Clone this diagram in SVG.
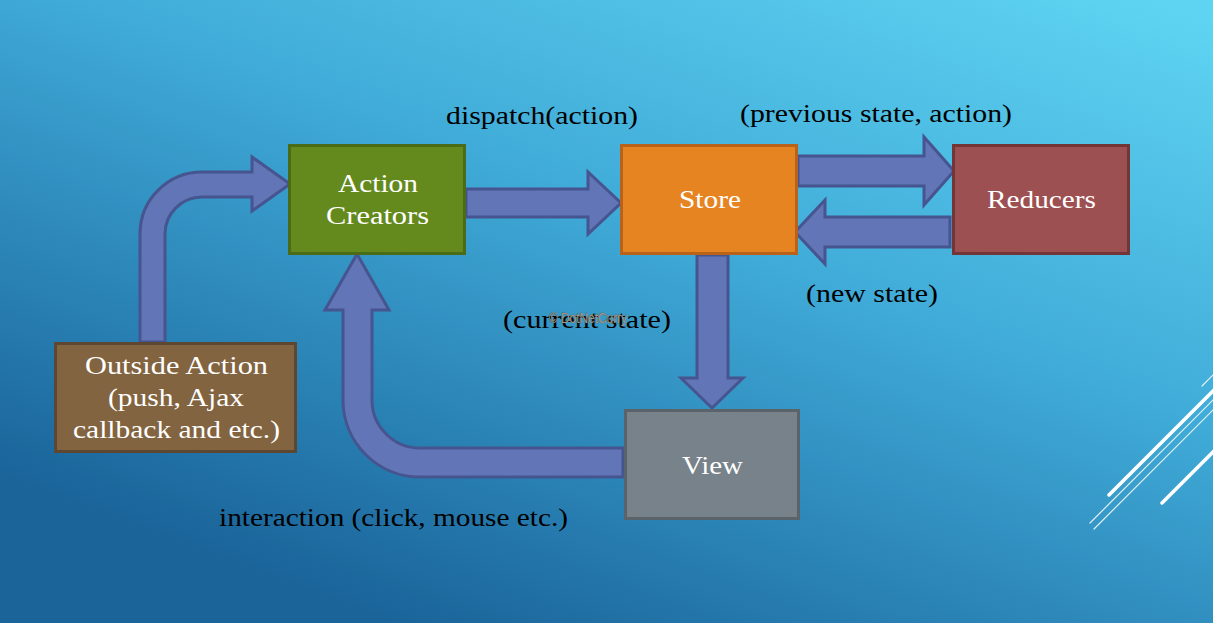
<svg xmlns="http://www.w3.org/2000/svg" width="1213" height="623" viewBox="0 0 1213 623">
<defs>
<linearGradient id="bg" gradientUnits="userSpaceOnUse" x1="900" y1="-100" x2="600" y2="700">
<stop offset="0" stop-color="#5fd4f2"/>
<stop offset="0.45" stop-color="#40abd8"/>
<stop offset="1" stop-color="#1a649a"/>
</linearGradient>
</defs>
<style>
.arrow{fill:#6175b7;stroke:#46558f;stroke-width:3;stroke-linejoin:miter}
.box{stroke-width:3}
.nt{font-family:"Liberation Serif","DejaVu Serif",serif;font-size:26px;fill:#ffffff;text-anchor:middle}
.lbl{font-family:"Liberation Serif","DejaVu Serif",serif;font-size:26px;fill:#000000}
.deco{stroke:#ffffff;stroke-linecap:round;fill:none}
.wm{font-family:"Liberation Sans","DejaVu Sans",sans-serif;font-size:14px;fill:#a39580;stroke:#4a4238;stroke-width:0.4;paint-order:stroke}
</style>
<rect x="0" y="0" width="1213" height="623" fill="url(#bg)"/>
<g id="decoration">
<line class="deco" x1="1109" y1="495" x2="1222" y2="382" stroke-width="3.5"/>
<line class="deco" x1="1162" y1="503" x2="1222" y2="443" stroke-width="3.5"/>
<line class="deco" x1="1090" y1="523" x2="1222" y2="391" stroke-width="1.2" opacity="0.85"/>
<line class="deco" x1="1094" y1="529" x2="1222" y2="401" stroke-width="1.2" opacity="0.85"/>
<line class="deco" x1="1202" y1="386" x2="1222" y2="366" stroke-width="1.2" opacity="0.85"/>
</g>
<g id="connectors">
<path class="arrow" d="M140,342 V234 A62,62 0 0 1 202,172 H252 V157 L290,184 L252,211 V197 H202 A37,37 0 0 0 165,234 V342 Z"/>
<path class="arrow" d="M466,189 H588 V172 L621,203 L588,234 V217 H466 Z"/>
<path class="arrow" d="M798,156 H924 V137 L954,171 L924,205 V186 H798 Z"/>
<path class="arrow" d="M950,217 H825 V200 L795,232 L825,264 V247 H950 Z"/>
<path class="arrow" d="M697,255 V378 H681 L712,408 L743,378 H728 V255 Z"/>
<path class="arrow" d="M372,310 H389 L357,254 L325,310 H343 V400 A77,77 0 0 0 420,477 H623 V448 H420 A48,48 0 0 1 372,400 Z"/>
</g>
<g id="action-creators">
<rect class="box" x="289.5" y="145.5" width="175" height="108" fill="#648a1e" stroke="#4b6b17"/>
<text class="nt" x="378" y="192" textLength="80" lengthAdjust="spacingAndGlyphs">Action</text>
<text class="nt" x="377.5" y="224" textLength="103" lengthAdjust="spacingAndGlyphs">Creators</text>
</g>
<g id="store">
<rect class="box" x="621.5" y="145.5" width="175" height="108" fill="#e68422" stroke="#b8621a"/>
<text class="nt" x="710" y="208" textLength="62" lengthAdjust="spacingAndGlyphs">Store</text>
</g>
<g id="reducers">
<rect class="box" x="953.5" y="145.5" width="175" height="108" fill="#9d5051" stroke="#733637"/>
<text class="nt" x="1041.5" y="208" textLength="109" lengthAdjust="spacingAndGlyphs">Reducers</text>
</g>
<g id="outside-action">
<rect class="box" x="55.5" y="343.5" width="240" height="108" fill="#836440" stroke="#5e4730"/>
<text class="nt" x="176.5" y="374" textLength="183" lengthAdjust="spacingAndGlyphs">Outside Action</text>
<text class="nt" x="176" y="406" textLength="136" lengthAdjust="spacingAndGlyphs">(push, Ajax</text>
<text class="nt" x="176.5" y="438" textLength="207" lengthAdjust="spacingAndGlyphs">callback and etc.)</text>
</g>
<g id="view">
<rect class="box" x="625.5" y="410.5" width="173" height="108" fill="#77828a" stroke="#5a6369"/>
<text class="nt" x="712.5" y="474" textLength="61" lengthAdjust="spacingAndGlyphs">View</text>
</g>
<g id="labels">
<text class="lbl" x="446" y="124" textLength="192" lengthAdjust="spacingAndGlyphs">dispatch(action)</text>
<text class="lbl" x="740" y="122" textLength="272" lengthAdjust="spacingAndGlyphs">(previous state, action)</text>
<text class="lbl" x="806" y="302" textLength="132" lengthAdjust="spacingAndGlyphs">(new state)</text>
<text class="lbl" x="503" y="328" textLength="168" lengthAdjust="spacingAndGlyphs">(current state)</text>
<text class="lbl" x="219" y="526" textLength="349" lengthAdjust="spacingAndGlyphs">interaction (click, mouse etc.)</text>
<text class="wm" x="549" y="323" textLength="78" lengthAdjust="spacingAndGlyphs">© DotNetCurry</text>
</g>
</svg>
